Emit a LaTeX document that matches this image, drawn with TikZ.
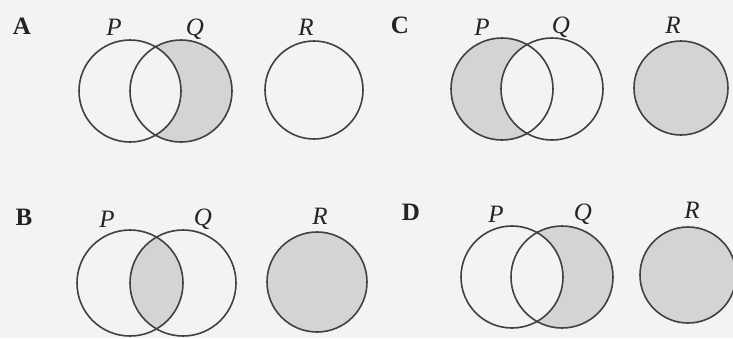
\documentclass[tikz,border=0pt]{standalone}
\usepackage{fontspec}
\setmainfont{Liberation Serif}
\definecolor{paper}{RGB}{243,243,241}
\definecolor{setgray}{RGB}{212,212,210}
\definecolor{ink}{RGB}{65,65,65}
\definecolor{typeink}{RGB}{35,35,35}

\begin{document}
\begin{tikzpicture}[x=1pt, y=-1pt,
  set/.style={draw=ink, line width=1.6pt},
  setname/.style={font=\fontsize{25}{30}\selectfont\itshape, anchor=base, inner sep=0pt, text=typeink},
  optname/.style={font=\fontsize{25}{30}\selectfont\bfseries, anchor=base, inner sep=0pt, text=typeink}]

  \fill[paper] (0,0) rectangle (733,338);
  \useasboundingbox (0,0) rectangle (733,338);

  % ---------- A: Q outside P ----------
  \begin{scope}
    \fill[setgray] (181,91) circle[radius=51];
    \fill[paper] (130,91) circle[radius=51];
    \draw[set] (130,91) circle[radius=51];
    \draw[set] (181,91) circle[radius=51];
    \draw[set] (314,90) circle[radius=49];
    \node[optname] (optA) at (22,34) {A};
    \node[setname] (pA) at (114,35) {P};
    \node[setname] (qA) at (195,35) {Q};
    \node[setname] (rA) at (306,35) {R};
  \end{scope}

  % ---------- C: P outside Q, and R ----------
  \begin{scope}
    \fill[setgray] (502,89) circle[radius=51];
    \fill[paper] (552,89) circle[radius=51];
    \fill[setgray] (681,88) circle[radius=47];
    \draw[set] (502,89) circle[radius=51];
    \draw[set] (552,89) circle[radius=51];
    \draw[set] (681,88) circle[radius=47];
    \node[optname] (optC) at (400,33) {C};
    \node[setname] (pC) at (482,35) {P};
    \node[setname] (qC) at (561,33) {Q};
    \node[setname] (rC) at (673,33) {R};
  \end{scope}

  % ---------- B: P and Q, and R ----------
  \begin{scope}
    \begin{scope}
      \clip (130,283) circle[radius=53];
      \fill[setgray] (183,283) circle[radius=53];
    \end{scope}
    \fill[setgray] (317,282) circle[radius=50];
    \draw[set] (130,283) circle[radius=53];
    \draw[set] (183,283) circle[radius=53];
    \draw[set] (317,282) circle[radius=50];
    \node[optname] (optB) at (24,225) {B};
    \node[setname] (pB) at (107,227) {P};
    \node[setname] (qB) at (203,225) {Q};
    \node[setname] (rB) at (320,224) {R};
  \end{scope}

  % ---------- D: Q outside P, and R ----------
  \begin{scope}
    \fill[setgray] (562,277) circle[radius=51];
    \fill[paper] (512,277) circle[radius=51];
    \fill[setgray] (688,275) circle[radius=48];
    \draw[set] (512,277) circle[radius=51];
    \draw[set] (562,277) circle[radius=51];
    \draw[set] (688,275) circle[radius=48];
    \node[optname] (optD) at (411,220) {D};
    \node[setname] (pD) at (496,222) {P};
    \node[setname] (qD) at (583,220) {Q};
    \node[setname] (rD) at (692,218) {R};
  \end{scope}

\end{tikzpicture}
\end{document}
